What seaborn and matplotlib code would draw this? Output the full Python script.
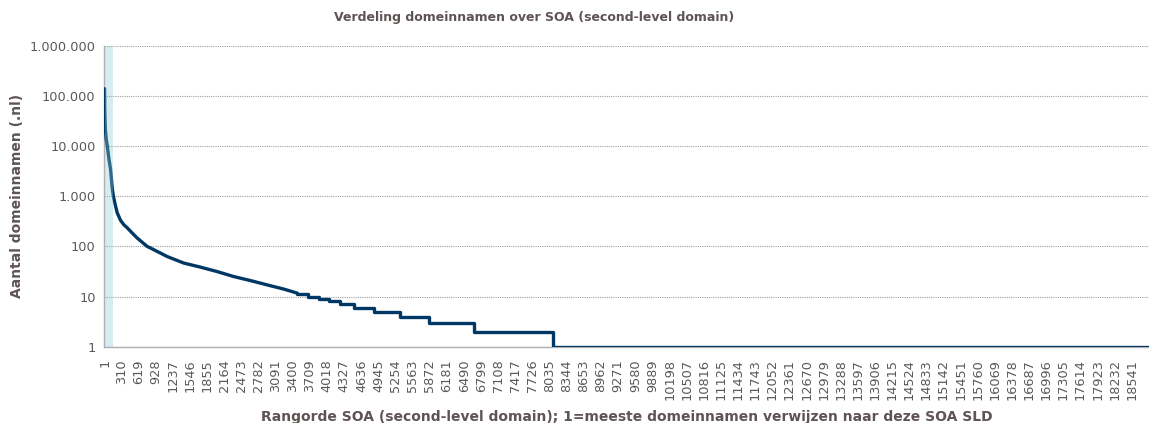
import numpy as np
import pandas as pd
import matplotlib
matplotlib.use("Agg")
import matplotlib.pyplot as plt
import seaborn as sns

head_rank = [1, 3, 8, 15, 30, 50, 80, 110, 140, 160, 200, 230, 290, 350, 410,
             500, 590, 770, 830, 1130, 1430, 1730, 2030, 2330, 2630, 2935, 3235, 3480]
head_count = [140000, 60000, 35000, 22000, 14000, 10000, 5500, 3400, 1400, 1000,
              631, 466, 330, 270, 235, 185, 147, 100, 93, 63, 46.6, 38.7, 31.6,
              25.1, 20.9, 17.1, 14.1, 11.7]

# integer tail: rank where each level starts
step_rank = [3480, 3663, 3866, 4046, 4257, 4497, 4858, 5339, 5849, 6661, 8086, 18850]
step_count = [11, 10, 9, 8, 7, 6, 5, 4, 3, 2, 1, 1]

n_soa = 18850
top_band = 150
ytick_vals = [1, 10, 100, 1000, 10000, 100000, 1000000]
ytick_labels = ["1", "10", "100", "1.000", "10.000", "100.000", "1.000.000"]

head = pd.DataFrame({"rank": head_rank, "count": head_count})
tail = pd.DataFrame({"rank": step_rank, "count": step_count})

sns.set_style("white")
plt.rcParams["font.family"] = ["DejaVu Sans"]

text_col = "#5e5454"
tick_col = "#595959"
line_col = "#003865"

fig = plt.figure(figsize=(11.49, 4.23), dpi=100)
ax = fig.add_axes([0.0905, 0.1804, 0.9095, 0.7109])

sns.lineplot(data=head, x="rank", y="count", ax=ax, color=line_col, lw=2.4,
             zorder=3)
sns.lineplot(data=tail, x="rank", y="count", ax=ax, color=line_col, lw=2.4,
             drawstyle="steps-post", zorder=3)

# highlighted top of the ranking
ax.axvspan(1, top_band, color="#8ac9d4", alpha=0.35, lw=0, zorder=4)

ax.set_yscale("log")
ax.set_ylim(1, 1000000)
ax.set_xlim(-10, n_soa)
ax.set_yticks(ytick_vals)
ax.set_yticklabels(ytick_labels)
ax.yaxis.set_minor_locator(matplotlib.ticker.NullLocator())

xt = np.arange(1, n_soa, 309)
ax.set_xticks(xt)
ax.set_xticklabels([str(v) for v in xt], rotation=90)

ax.grid(axis="y", color="#a0a0a0", lw=0.8, linestyle=(0, (1, 1)))
ax.grid(axis="x", visible=False)

for s in ["top", "right"]:
    ax.spines[s].set_visible(False)
for s in ["left", "bottom"]:
    ax.spines[s].set_color("#b0b0b0")
    ax.spines[s].set_linewidth(1)

ax.tick_params(axis="x", length=0, pad=9, labelsize=9.3, labelcolor=tick_col)
ax.tick_params(axis="y", length=3, color="#b0b0b0", pad=3, labelsize=9.3,
               labelcolor=tick_col)

ax.set_xlabel("Rangorde SOA (second-level domain); 1=meeste domeinnamen verwijzen naar deze SOA SLD",
              fontsize=10, fontweight="bold", color=text_col, labelpad=7)
ax.set_ylabel("Aantal domeinnamen (.nl)", fontsize=10, fontweight="bold",
              color=text_col, labelpad=4)
fig.text(534 / 1149, 1 - 18 / 423,
         "Verdeling domeinnamen over SOA (second-level domain)",
         ha="center", va="center", fontsize=9, fontweight="bold", color=text_col)

fig.savefig("out.png", dpi=100)
